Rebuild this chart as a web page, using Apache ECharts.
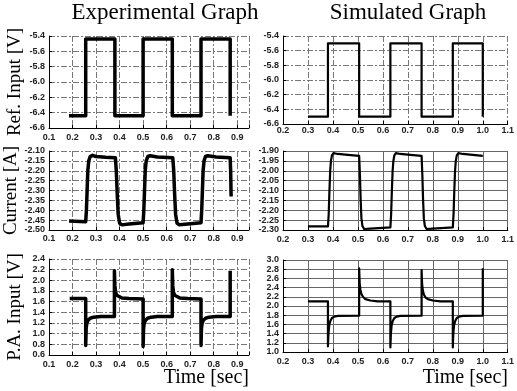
<!DOCTYPE html>
<html>
<head>
<meta charset="utf-8">
<script src="https://cdn.jsdelivr.net/npm/echarts@6/dist/echarts.min.js"></script>
<style>
html,body{margin:0;padding:0;background:#fff}
#main{width:517px;height:391px}
</style>
</head>
<body>
<div id="main"></div>
<script>
// axis ranges: [min, max, step]
const expTime = [0.1, 0.95, 0.1];
const simTime = [0.2, 1.1, 0.1];
const refAxis = [-6.6, -5.4, 0.2];
const expCurAxis = [-2.5, -2.1, 0.05];
const simCurAxis = [-2.3, -1.9, 0.05];
const expPaAxis = [0.6, 2.4, 0.2];
const simPaAxis = [1.0, 3.0, 0.2];

// [time, value]
const expRef = [[0.185,-6.44],[0.256,-6.44],[0.256,-5.44],[0.38,-5.44],[0.38,-6.44],[0.50,-6.44],[0.50,-5.44],
  [0.624,-5.44],[0.624,-6.44],[0.746,-6.44],[0.746,-5.44],[0.87,-5.44],[0.87,-6.44]];

const simRef = [[0.30,-6.5],[0.38,-6.5],[0.38,-5.5],[0.505,-5.5],[0.505,-6.5],[0.63,-6.5],[0.63,-5.5],
  [0.755,-5.5],[0.755,-6.5],[0.88,-6.5],[0.88,-5.5],[1.0,-5.5],[1.0,-6.5]];

const expCur = [[0.185,-2.455],[0.256,-2.458],[0.259,-2.40],[0.262,-2.30],[0.265,-2.20],[0.269,-2.15],[0.275,-2.128],
  [0.285,-2.122],[0.30,-2.128],[0.34,-2.132],[0.382,-2.134],
  [0.386,-2.20],[0.39,-2.32],[0.394,-2.42],[0.40,-2.465],[0.41,-2.474],[0.44,-2.47],[0.50,-2.463],
  [0.503,-2.40],[0.506,-2.30],[0.509,-2.20],[0.513,-2.15],[0.52,-2.128],[0.53,-2.124],[0.56,-2.13],[0.626,-2.134],
  [0.63,-2.20],[0.634,-2.32],[0.638,-2.42],[0.644,-2.465],[0.654,-2.474],[0.69,-2.47],[0.746,-2.463],
  [0.749,-2.40],[0.752,-2.30],[0.755,-2.20],[0.759,-2.15],[0.765,-2.128],[0.775,-2.124],[0.81,-2.13],[0.87,-2.134],
  [0.872,-2.20],[0.874,-2.33]];

const simCur = [[0.30,-2.282],[0.38,-2.282],[0.383,-2.22],[0.386,-2.10],[0.389,-2.00],[0.392,-1.95],[0.396,-1.922],
  [0.402,-1.911],[0.42,-1.915],[0.46,-1.92],[0.505,-1.925],
  [0.508,-2.02],[0.511,-2.15],[0.514,-2.24],[0.518,-2.28],[0.525,-2.295],[0.55,-2.293],[0.60,-2.289],[0.63,-2.287],
  [0.633,-2.22],[0.636,-2.10],[0.639,-2.00],[0.642,-1.95],[0.646,-1.922],[0.652,-1.911],[0.67,-1.915],[0.71,-1.92],[0.755,-1.925],
  [0.758,-2.02],[0.761,-2.15],[0.764,-2.24],[0.768,-2.28],[0.775,-2.295],[0.80,-2.293],[0.85,-2.289],[0.88,-2.287],
  [0.883,-2.22],[0.886,-2.10],[0.889,-2.00],[0.892,-1.95],[0.896,-1.922],[0.902,-1.911],[0.92,-1.915],[0.96,-1.92],[1.0,-1.925]];

const expPa = [[0.188,1.66],[0.256,1.66],[0.256,0.78],[0.258,1.10],[0.261,1.20],[0.266,1.25],[0.275,1.29],[0.29,1.31],
  [0.32,1.32],[0.378,1.32],
  [0.378,2.18],[0.380,1.90],[0.383,1.78],[0.388,1.72],[0.395,1.69],[0.41,1.67],[0.44,1.66],[0.50,1.65],
  [0.50,0.76],[0.502,1.10],[0.505,1.20],[0.51,1.25],[0.519,1.29],[0.534,1.31],[0.56,1.32],[0.624,1.32],
  [0.624,2.20],[0.626,1.90],[0.629,1.78],[0.634,1.72],[0.641,1.69],[0.656,1.67],[0.69,1.66],[0.746,1.65],
  [0.746,0.78],[0.748,1.10],[0.751,1.20],[0.756,1.25],[0.765,1.29],[0.78,1.31],[0.81,1.32],[0.87,1.32],
  [0.87,2.18]];

const simPa = [[0.30,2.10],[0.38,2.10],[0.38,1.12],[0.382,1.40],[0.385,1.58],[0.39,1.68],[0.396,1.74],[0.405,1.77],
  [0.42,1.785],[0.505,1.79],
  [0.505,2.82],[0.507,2.50],[0.51,2.35],[0.514,2.26],[0.52,2.20],[0.53,2.15],[0.55,2.12],[0.58,2.10],[0.63,2.10],
  [0.63,1.10],[0.632,1.40],[0.635,1.58],[0.64,1.68],[0.646,1.74],[0.655,1.77],[0.67,1.785],[0.755,1.79],
  [0.755,2.78],[0.757,2.48],[0.76,2.34],[0.764,2.25],[0.77,2.19],[0.78,2.15],[0.80,2.12],[0.83,2.10],[0.88,2.10],
  [0.88,1.10],[0.882,1.40],[0.885,1.58],[0.89,1.68],[0.896,1.74],[0.905,1.77],[0.92,1.785],[1.0,1.79],
  [1.0,2.82]];

const serif = '"Liberation Serif", "Times New Roman", serif';
const sans = '"Liberation Sans", Arial, sans-serif';

const leftGrid = { dash: [6, 2, 2, 2], color: '#777' };
const rightGrid = { dash: 'solid', color: '#666' };

function xAx(idx, r, margin, g) {
  return {
    type: 'value', gridIndex: idx, min: r[0], max: r[1], interval: r[2],
    axisLine: { show: true, onZero: false, lineStyle: { color: '#000', width: 1 } },
    axisTick: { show: true, inside: true, length: 3, lineStyle: { color: '#000' } },
    axisLabel: {
      margin: margin, fontSize: 9, fontWeight: 'bold', color: '#222', fontFamily: sans,
      formatter: v => Math.abs(v * 10 - Math.round(v * 10)) < 1e-6 ? v.toFixed(1) : ''
    },
    splitLine: { show: true, lineStyle: { color: g.color, type: g.dash, width: 1 } }
  };
}

function yAx(idx, r, digits, g, name) {
  return {
    type: 'value', gridIndex: idx, min: r[0], max: r[1], interval: r[2],
    name: name || '', nameLocation: 'middle', nameGap: 24,
    nameTextStyle: { fontFamily: serif, fontSize: 19, color: '#000' },
    axisLine: { show: true, onZero: false, lineStyle: { color: '#000', width: 1 } },
    axisTick: { show: true, inside: true, length: 3, lineStyle: { color: '#000' } },
    axisLabel: { margin: 4, fontSize: 9, fontWeight: 'bold', color: '#222', fontFamily: sans, formatter: v => v.toFixed(digits) },
    splitLine: { show: true, lineStyle: { color: g.color, type: g.dash, width: 1 } }
  };
}

function line(idx, data, w) {
  return {
    type: 'line', xAxisIndex: idx, yAxisIndex: idx, data: data, symbol: 'none',
    lineStyle: { color: '#000', width: w, join: 'round' }, animation: false
  };
}

var chartDom = document.getElementById('main');
var myChart = echarts.init(chartDom, null, { renderer: 'canvas' });

var option = {
  backgroundColor: '#fff',
  animation: false,
  grid: [
    { left: 49, top: 36, width: 200, height: 92 },
    { left: 283, top: 36, width: 232, height: 88 },
    { left: 49, top: 151, width: 200, height: 79 },
    { left: 283, top: 151, width: 232, height: 79 },
    { left: 49, top: 259, width: 200, height: 96 },
    { left: 283, top: 260, width: 232, height: 92 }
  ],
  xAxis: [
    xAx(0, expTime, 5, leftGrid),
    xAx(1, simTime, 2, leftGrid),
    xAx(2, expTime, 4, leftGrid),
    xAx(3, simTime, 5, rightGrid),
    xAx(4, expTime, 5, leftGrid),
    xAx(5, simTime, 5, rightGrid)
  ],
  yAxis: [
    yAx(0, refAxis, 1, leftGrid, 'Ref. Input [V]'),
    yAx(1, refAxis, 1, leftGrid),
    yAx(2, expCurAxis, 2, leftGrid, 'Current [A]'),
    yAx(3, simCurAxis, 2, rightGrid),
    yAx(4, expPaAxis, 1, leftGrid, 'P.A. Input [V]'),
    yAx(5, simPaAxis, 1, rightGrid)
  ],
  series: [
    line(0, expRef, 3.5),
    line(1, simRef, 2.2),
    line(2, expCur, 3.5),
    line(3, simCur, 2.2),
    line(4, expPa, 3.5),
    line(5, simPa, 2.2)
  ],
  graphic: [
    { type: 'text', x: 165, y: 13, style: { text: 'Experimental Graph', font: '23px ' + serif, align: 'center', verticalAlign: 'middle', fill: '#000' } },
    { type: 'text', x: 408, y: 13, style: { text: 'Simulated Graph', font: '23px ' + serif, align: 'center', verticalAlign: 'middle', fill: '#000' } },
    { type: 'text', x: 249, y: 378, style: { text: 'Time [sec]', font: '20px ' + serif, align: 'right', verticalAlign: 'middle', fill: '#000' } },
    { type: 'text', x: 508, y: 378, style: { text: 'Time [sec]', font: '20px ' + serif, align: 'right', verticalAlign: 'middle', fill: '#000' } }
  ]
};

option && myChart.setOption(option, true);
window.onresize = () => { myChart.resize(); };
</script>
</body>
</html>
